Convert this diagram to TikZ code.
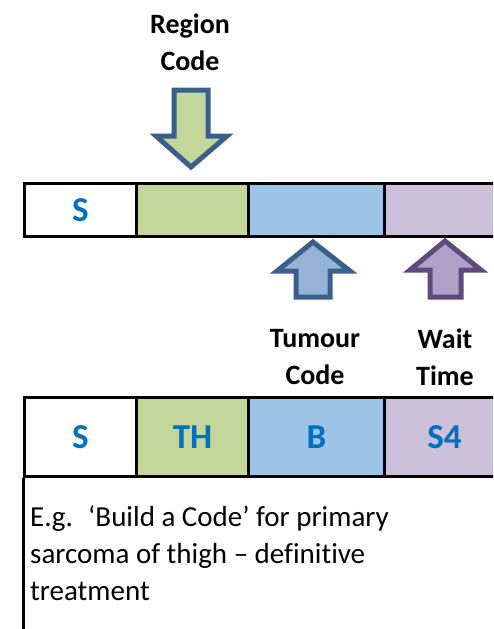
\documentclass[tikz,border=0pt]{standalone}
\usepackage{fontspec}
\setmainfont{Carlito}[Ligatures=NoCommon]
\definecolor{cgreen}{HTML}{C4D79B}
\definecolor{cblue}{HTML}{9DC3E6}
\definecolor{cpurple}{HTML}{CCC0DA}
\definecolor{ablue}{HTML}{95B3D7}
\definecolor{apurple}{HTML}{B1A0C7}
\definecolor{lblue}{HTML}{3A5F8B}
\definecolor{lpurple}{HTML}{604A7B}
\definecolor{tblue}{HTML}{0070C0}
\begin{document}
\begin{tikzpicture}[x=1pt,y=-1pt,
  cell/.style={draw=black,line width=3pt,inner sep=0pt,anchor=north west,
    text=tblue,font=\fontsize{35}{40}\selectfont\bfseries},
  lbl/.style={align=center,font=\fontsize{28}{37}\selectfont\bfseries},
  arr/.style={line width=5pt,line join=miter,miter limit=10}]
\useasboundingbox (0,0) rectangle (493,629);
\clip (0,0) rectangle (493,629);
% top bar
\node[cell,minimum width=112pt,minimum height=53pt] (t1) at (23,182) {S};
\node[cell,fill=cgreen,minimum width=112pt,minimum height=53pt] (t2) at (135,182) {};
\node[cell,fill=cblue,minimum width=136pt,minimum height=53pt] (t3) at (247,182) {};
\node[cell,fill=cpurple,minimum width=120pt,minimum height=53pt] (t4) at (383,182) {};
% bottom bar
\node[cell,minimum width=112pt,minimum height=79pt] (b1) at (23,396) {S};
\node[cell,fill=cgreen,minimum width=112pt,minimum height=79pt] (b2) at (135,396) {TH};
\node[cell,fill=cblue,minimum width=136pt,minimum height=79pt] (b3) at (247,396) {B};
\node[cell,fill=cpurple,minimum width=120pt,minimum height=79pt] (b4) at (383,396) {S4};
% text box
\coordinate (boxbl) at (23,640);
\draw[line width=3pt] (b1.south west) -- (boxbl);
\node[anchor=north west,align=left,inner sep=0pt,
  font=\fontsize{29}{37}\selectfont] (txt) at (30,505)
  {E.g.~ ‘Build a Code’ for primary\\sarcoma of thigh -- definitive\\treatment};
% labels
\node[lbl] (lr) at (190,42) {Region\\Code};
\node[lbl] (lt) at (315,357) {Tumour\\Code};
\node[lbl] (lw) at (445,357) {Wait\\Time};
% arrows
\draw[arr,draw=lblue,fill=cgreen] (174,90) -- (208,90) -- (208,136) -- (227,136)
  -- (191,167) -- (156,136) -- (174,136) -- cycle;
\draw[arr,draw=lblue,fill=ablue] (296,297) -- (330,297) -- (330,271) -- (350,271)
  -- (313,242) -- (277,271) -- (296,271) -- cycle;
\draw[arr,draw=lpurple,fill=apurple] (430,297) -- (461,297) -- (461,270) -- (481,270)
  -- (445,241) -- (410,270) -- (430,270) -- cycle;
\end{tikzpicture}
\end{document}
